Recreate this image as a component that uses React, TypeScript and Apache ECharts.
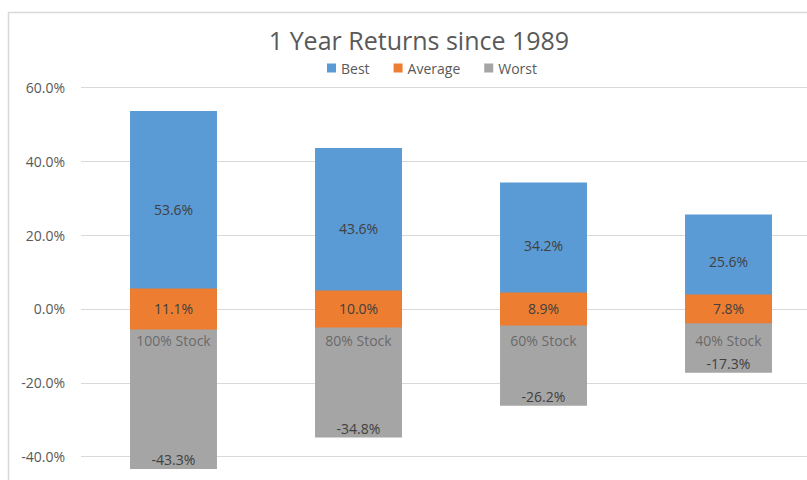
import React, { useEffect, useRef } from "react";
import * as echarts from "echarts";

const categories = ["100% Stock", "80% Stock", "60% Stock", "40% Stock"];
const best = [53.6, 43.6, 34.2, 25.6];
const average = [11.1, 10.0, 8.9, 7.8];
const worst = [-43.3, -34.8, -26.2, -17.3];
const yTicks = { min: -60, max: 60, interval: 20 };

const BLUE = "#5B9BD5";
const ORANGE = "#ED7D31";
const GRAY = "#A5A5A5";
const FONT = "'Open Sans', 'Noto Sans', sans-serif";

export default function App() {
  const ref = useRef<HTMLDivElement>(null);
  useEffect(() => {
    document.body.style.margin = "0";
    const chart = echarts.init(ref.current!, null, { renderer: "svg" });
    const pct = (v: number) => v.toFixed(1) + "%";
    const valueLabel = {
      show: true,
      color: "#404040",
      fontSize: 14,
      fontFamily: FONT,
    };
    chart.setOption({
      animation: false,
      backgroundColor: "#fff",
      textStyle: { fontFamily: FONT },
      graphic: [
        {
          type: "rect",
          z: 0,
          shape: { x: 8.5, y: 12.5, width: 1000, height: 1000 },
          style: { fill: "none", stroke: "#D9D9D9", lineWidth: 1.5 },
          silent: true,
        },
        {
          type: "text",
          x: 419,
          y: 40,
          style: {
            text: "1 Year Returns since 1989",
            fill: "#595959",
            font: "500 25px 'Open Sans', 'Noto Sans', sans-serif",
            textAlign: "center",
            textVerticalAlign: "middle",
            align: "center",
            verticalAlign: "middle",
          },
        },
      ],
      legend: {
        data: ["Best", "Average", "Worst"],
        left: 322,
        top: 56,
        itemWidth: 9,
        itemHeight: 9,
        itemGap: 24,
        icon: "rect",
        textStyle: { color: "#595959", fontSize: 14, fontFamily: FONT },
      },
      grid: {
        left: 81,
        top: 87.3,
        width: 740,
        height: 443.3,
        containLabel: false,
        outerBoundsMode: "none",
      },
      xAxis: {
        type: "category",
        data: categories,
        axisLine: { show: false },
        axisTick: { show: false },
        axisLabel: { show: false },
        splitLine: { show: false },
      },
      yAxis: {
        type: "value",
        min: yTicks.min,
        max: yTicks.max,
        interval: yTicks.interval,
        axisLine: { show: false },
        axisTick: { show: false },
        axisLabel: {
          margin: 16,
          color: "#595959",
          fontSize: 14,
          fontFamily: FONT,
          showMinLabel: false,
          formatter: (v: number) => pct(v),
        },
        splitLine: { lineStyle: { color: "#D9D9D9", width: 1 } },
      },
      series: [
        {
          name: "Best",
          type: "bar",
          data: best,
          barWidth: "47%",
          barGap: "-100%",
          itemStyle: { color: BLUE },
          label: { ...valueLabel, position: "inside", formatter: (p: any) => pct(p.value) },
        },
        {
          name: "Worst",
          type: "bar",
          data: worst,
          barWidth: "47%",
          barGap: "-100%",
          itemStyle: { color: GRAY },
          label: {
            ...valueLabel,
            position: "insideBottom",
            distance: 2,
            formatter: (p: any) => pct(p.value),
          },
        },
        {
          name: "AvgBase",
          type: "bar",
          stack: "avg",
          stackStrategy: "all",
          data: average.map((a) => -a / 2),
          barWidth: "47%",
          barGap: "-100%",
          silent: true,
          itemStyle: { color: "rgba(0,0,0,0)" },
          label: { show: false },
        },
        {
          name: "Average",
          type: "bar",
          stack: "avg",
          stackStrategy: "all",
          data: average,
          barWidth: "47%",
          barGap: "-100%",
          itemStyle: { color: ORANGE },
          label: { ...valueLabel, position: "inside", formatter: (p: any) => pct(p.value) },
        },
        {
          name: "Category",
          type: "scatter",
          data: categories.map((c) => [c, 0]),
          symbolSize: 0,
          silent: true,
          z: 5,
          label: {
            show: true,
            position: "bottom",
            distance: 25,
            color: "#595959",
            fontSize: 14,
            fontFamily: FONT,
            formatter: (p: any) => p.value[0],
          },
        },
      ],
    });
    return () => chart.dispose();
  }, []);
  return (
    <div
      ref={ref}
      style={{ position: "absolute", left: 0, top: 0, width: 807, height: 480 }}
    />
  );
}
